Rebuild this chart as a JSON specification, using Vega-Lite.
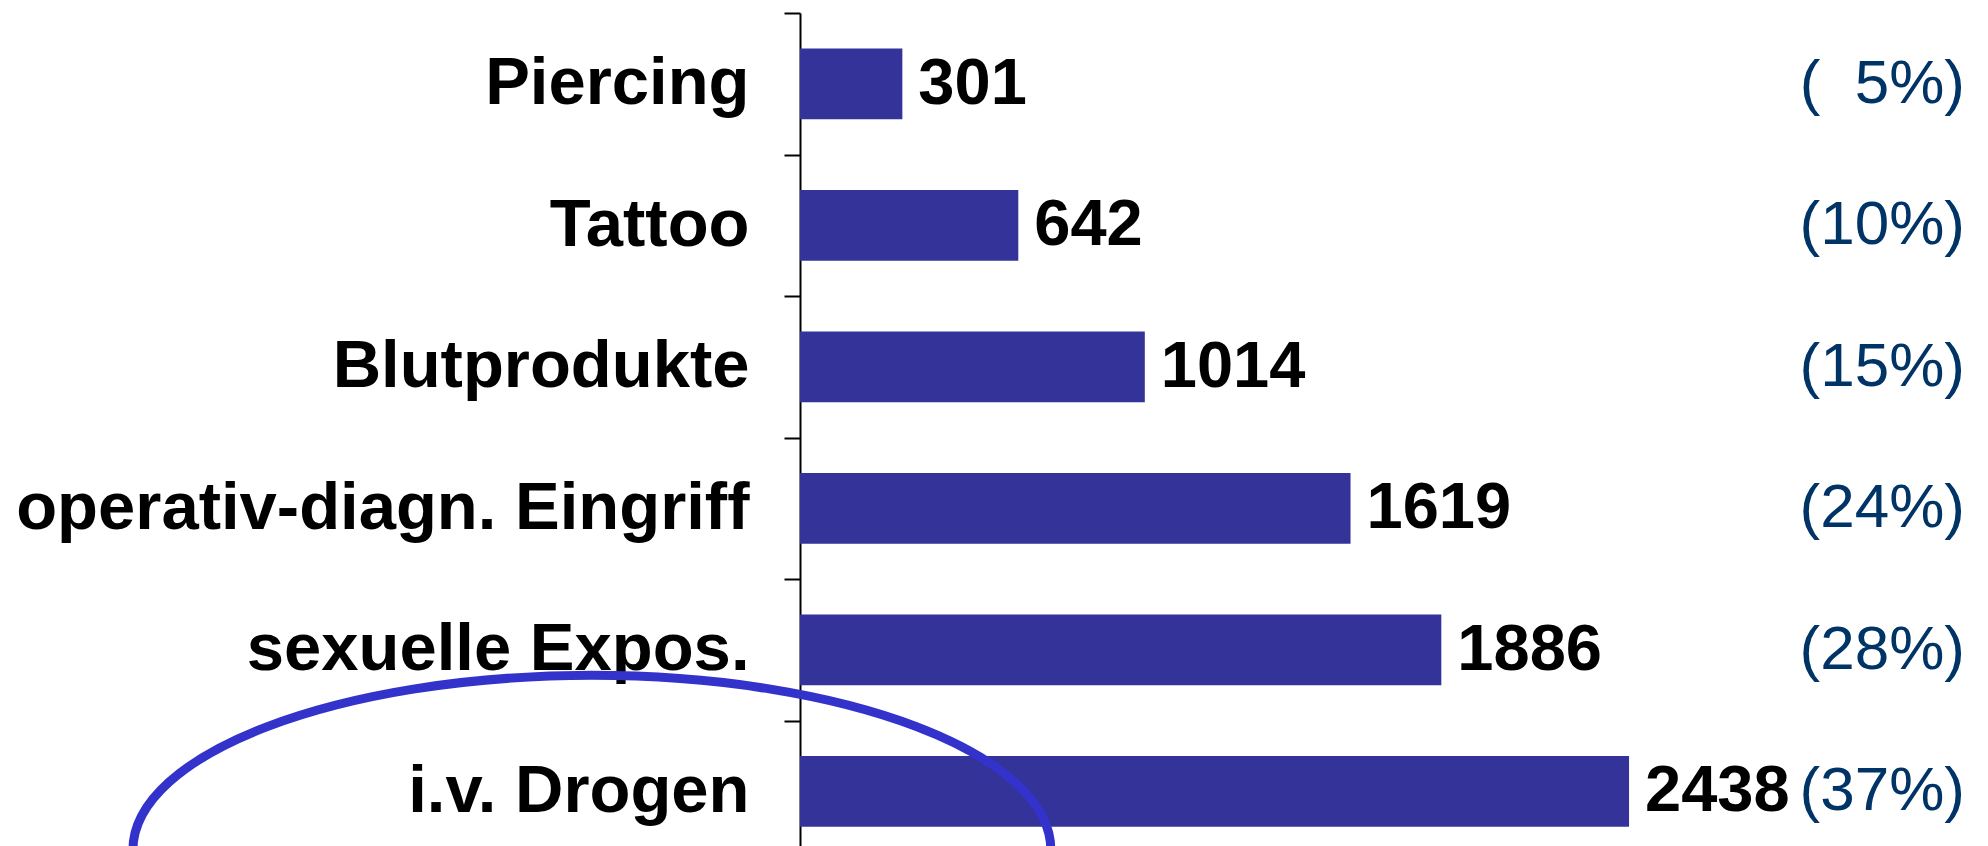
{
  "$schema": "https://vega.github.io/schema/vega-lite/v6.json",
  "width": 1165,
  "height": 849,
  "autosize": {"type": "none"},
  "padding": {"left": 800, "top": 13, "right": 23, "bottom": 0},
  "background": "white",
  "config": {"view": {"stroke": null}},
  "data": {
    "values": [
      {"cat": "Piercing", "n": 301, "pct": "(\u00a0\u00a05%)"},
      {"cat": "Tattoo", "n": 642, "pct": "(10%)"},
      {"cat": "Blutprodukte", "n": 1014, "pct": "(15%)"},
      {"cat": "operativ-diagn. Eingriff", "n": 1619, "pct": "(24%)"},
      {"cat": "sexuelle Expos.", "n": 1886, "pct": "(28%)"},
      {"cat": "i.v. Drogen", "n": 2438, "pct": "(37%)"}
    ]
  },
  "encoding": {
    "y": {
      "field": "cat",
      "type": "nominal",
      "sort": null,
      "scale": {"paddingInner": 0, "paddingOuter": 0},
      "axis": {
        "title": null,
        "labelFont": "Liberation Sans",
        "labelFontWeight": "bold",
        "labelFontSize": 67,
        "labelColor": "black",
        "labelLimit": 2000,
        "labelPadding": 35,
        "tickSize": 16,
        "tickWidth": 2,
        "tickColor": "black",
        "domainColor": "black",
        "domainWidth": 2,
        "tickBand": "extent",
        "grid": false
      }
    }
  },
  "layer": [
    {
      "mark": {"type": "bar", "color": "#333399", "height": {"band": 0.5}},
      "encoding": {
        "x": {
          "field": "n",
          "type": "quantitative",
          "scale": {"domain": [0, 3426], "nice": false, "zero": true},
          "axis": null
        }
      }
    },
    {
      "mark": {
        "type": "text",
        "align": "left",
        "baseline": "middle",
        "dx": 16,
        "font": "Liberation Sans",
        "fontWeight": "bold",
        "fontSize": 65,
        "color": "black"
      },
      "encoding": {
        "x": {"field": "n", "type": "quantitative"},
        "text": {"field": "n", "type": "quantitative", "format": "d"}
      }
    },
    {
      "mark": {
        "type": "text",
        "align": "right",
        "baseline": "middle",
        "font": "Liberation Sans",
        "fontSize": 62,
        "color": "#003366"
      },
      "encoding": {
        "x": {"datum": 3426, "type": "quantitative"},
        "text": {"field": "pct", "type": "nominal"}
      }
    },
    {
      "transform": [{"filter": "datum.cat === 'i.v. Drogen'"}],
      "mark": {
        "type": "point",
        "shape": "M -1 0 C -1 -0.2104 -0.5523 -0.381 0 -0.381 C 0.5523 -0.381 1 -0.2104 1 0 C 1 0.2104 0.5523 0.381 0 0.381 C -0.5523 0.381 -1 0.2104 -1 0 Z",
        "size": 842724,
        "filled": false,
        "stroke": "#3333CC",
        "strokeWidth": 9,
        "opacity": 1,
        "yOffset": 59
      },
      "encoding": {
        "x": {"datum": -612, "type": "quantitative"}
      }
    }
  ]
}
